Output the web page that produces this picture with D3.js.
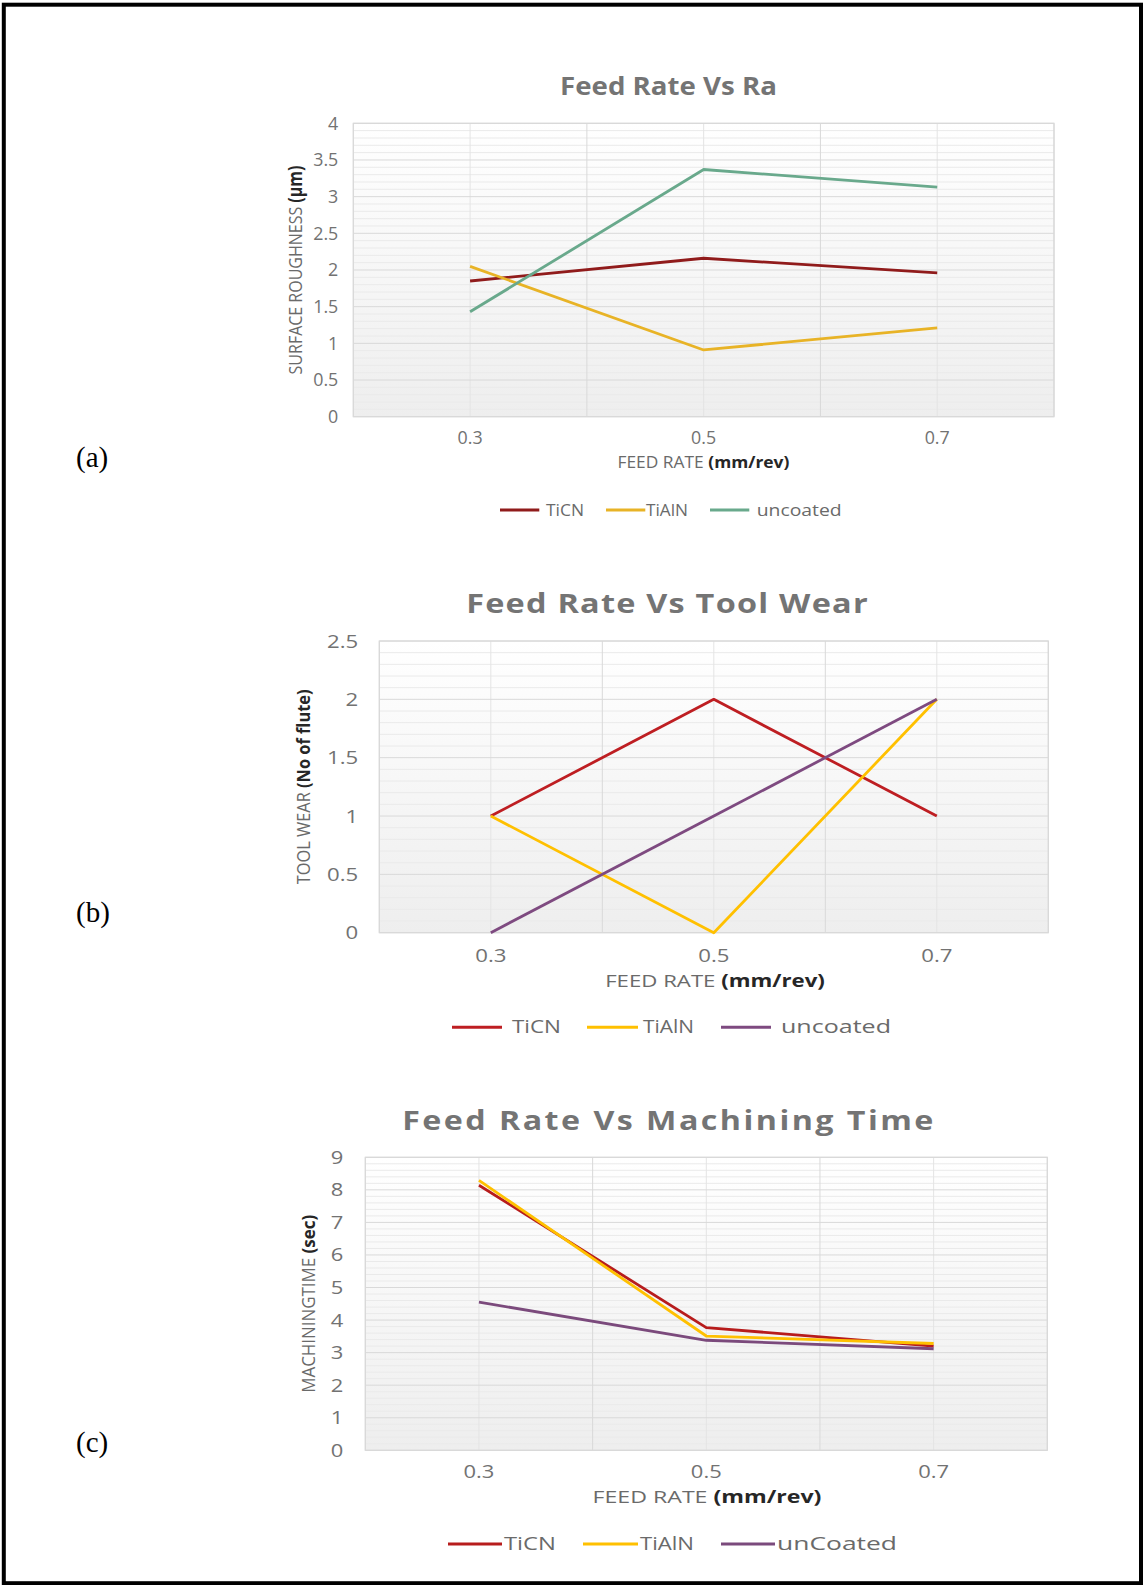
<!DOCTYPE html>
<html><head><meta charset="utf-8">
<script src="https://cdn.jsdelivr.net/npm/d3@7"></script>
<style>body{margin:0;background:#fff}svg{display:block}</style>
</head><body>
<script>
// ---------- data ----------
const feedRates = [0.3, 0.5, 0.7];
const xTickLabels = ["0.3", "0.5", "0.7"];
const seriesNamesAB = ["TiCN", "TiAlN", "uncoated"];
const seriesNamesC = ["TiCN", "TiAlN", "unCoated"];

const raTiCN = [1.85, 2.16, 1.96];
const raTiAlN = [2.05, 0.91, 1.21];
const raUncoated = [1.43, 3.37, 3.13];
const raTicks = [0, 0.5, 1, 1.5, 2, 2.5, 3, 3.5, 4];

const wearTiCN = [1, 2, 1];
const wearTiAlN = [1, 0, 2];
const wearUncoated = [0, 1, 2];
const wearTicks = [0, 0.5, 1, 1.5, 2, 2.5];

const timeTiCN = [8.14, 3.77, 3.2];
const timeTiAlN = [8.29, 3.51, 3.28];
const timeUncoated = [4.55, 3.38, 3.12];
const timeTicks = [0, 1, 2, 3, 4, 5, 6, 7, 8, 9];

// ---------- layout / style ----------
const FONT = "'Open Sans', 'DejaVu Sans', sans-serif";
const W = 1143, H = 1585;
const svg = d3.select("body").append("svg").attr("width", W).attr("height", H);

const defs = svg.append("defs");
const grad = defs.append("linearGradient").attr("id", "plotbg").attr("x1", 0).attr("y1", 0).attr("x2", 0).attr("y2", 1);
grad.append("stop").attr("offset", "0%").attr("stop-color", "#ffffff");
grad.append("stop").attr("offset", "100%").attr("stop-color", "#eeeeee");

svg.append("rect").attr("x", 3.8).attr("y", 4.7).attr("width", 1137.2).attr("height", 1578.5)
  .attr("fill", "none").attr("stroke", "#000").attr("stroke-width", 4);

function fitText(parent, o) {
  const t = parent.append("text")
    .attr("font-family", o.family || FONT)
    .attr("font-size", o.size)
    .attr("text-anchor", o.anchor || "middle");
  if (o.spacing) t.attr("letter-spacing", o.spacing);
  o.parts.forEach(p => t.append("tspan").text(p.text)
    .attr("font-weight", p.bold ? 700 : (o.weight || 400))
    .attr("fill", p.color || o.color));
  const w = t.node().getComputedTextLength();
  const sx = o.width ? o.width / w : 1;
  t.attr("transform", `translate(${o.x},${o.y}) rotate(${o.rotate || 0}) scale(${sx},1)`);
  return t;
}

const charts = [
  {
    label: "(a)", labelY: 467,
    title: "Feed Rate Vs Ra", titleX: 668.5, titleY: 95, titleSize: 25, titleW: 217, titleSpacing: 0,
    plot: {x0: 353.3, x1: 1054, y0: 123.3, y1: 416.7},
    yMax: 4, yTicks: raTicks, minorStep: 0.1, yTickRight: 338.3, tickSize: 17.5, tickSx: 1.02, xTickY: 444.3,
    yTitle: [{text: "SURFACE ROUGHNESS "}, {text: "(µm)", bold: true, color: "#262626"}],
    yTitleX: 302, yTitleW: 209, yTitleSize: 19,
    xTitleX: 703.4, xTitleY: 468.3, xTitleW: 172, xTitleSize: 16.5,
    series: [raTiCN, raTiAlN, raUncoated], names: seriesNamesAB,
    colors: ["#901b1b", "#e8b326", "#69a98c"],
    legendY: 510, legendTextY: 516, legendSize: 17,
    legendItems: [{x0: 500, x1: 539.3, tx: 546, tw: 38}, {x0: 606, x1: 645.3, tx: 646, tw: 42}, {x0: 710, x1: 749.3, tx: 756.7, tw: 85}]
  },
  {
    label: "(b)", labelY: 922,
    title: "Feed Rate Vs Tool Wear", titleX: 667.5, titleY: 613, titleSize: 26, titleW: 403, titleSpacing: 1,
    plot: {x0: 379.3, x1: 1048.3, y0: 641, y1: 932.7},
    yMax: 2.5, yTicks: wearTicks, minorStep: 0.1, yTickRight: 358.3, tickSize: 18.5, tickSx: 1.2, xTickY: 962,
    yTitle: [{text: "TOOL WEAR "}, {text: "(No of flute)", bold: true, color: "#262626"}],
    yTitleX: 309.5, yTitleW: 195, yTitleSize: 17.5,
    xTitleX: 715, xTitleY: 987, xTitleW: 220, xTitleSize: 17,
    series: [wearTiCN, wearTiAlN, wearUncoated], names: seriesNamesAB,
    colors: ["#be1e22", "#ffc000", "#7e4a80"],
    legendY: 1027.3, legendTextY: 1033, legendSize: 17.5,
    legendItems: [{x0: 452, x1: 502, tx: 512, tw: 49}, {x0: 587, x1: 638, tx: 643, tw: 51}, {x0: 721, x1: 771, tx: 781, tw: 110}]
  },
  {
    label: "(c)", labelY: 1452,
    title: "Feed Rate Vs Machining  Time", titleX: 669, titleY: 1130, titleSize: 26, titleW: 534, titleSpacing: 2,
    plot: {x0: 365.3, x1: 1047.3, y0: 1157.3, y1: 1450.3},
    yMax: 9, yTicks: timeTicks, minorStep: 0.2, yTickRight: 343.3, tickSize: 18, tickSx: 1.22, xTickY: 1478,
    yTitle: [{text: "MACHININGTIME "}, {text: "(sec)", bold: true, color: "#262626"}],
    yTitleX: 315, yTitleW: 178, yTitleSize: 18.5,
    xTitleX: 707, xTitleY: 1503, xTitleW: 229, xTitleSize: 17,
    series: [timeTiCN, timeTiAlN, timeUncoated], names: seriesNamesC,
    colors: ["#b71c1c", "#ffc000", "#7b4a7c"],
    legendY: 1544, legendTextY: 1550, legendSize: 17.5,
    legendItems: [{x0: 448, x1: 502, tx: 504, tw: 52}, {x0: 583, x1: 638, tx: 640, tw: 54}, {x0: 721, x1: 775, tx: 777, tw: 120}]
  }
];

charts.forEach(c => {
  const g = svg.append("g");
  const p = c.plot;
  const x = d3.scaleLinear().domain([0.2, 0.8]).range([p.x0, p.x1]);
  const y = d3.scaleLinear().domain([0, c.yMax]).range([p.y1, p.y0]);

  // panel label
  g.append("text").attr("x", 76).attr("y", c.labelY).attr("font-family", "'Liberation Serif', 'Times New Roman', serif")
    .attr("font-size", 29).attr("fill", "#000").text(c.label);

  // title
  fitText(g, {x: c.titleX, y: c.titleY, size: c.titleSize, width: c.titleW, spacing: c.titleSpacing,
    parts: [{text: c.title, bold: true}], color: "#747474"});

  // plot background
  g.append("rect").attr("x", p.x0).attr("y", p.y0).attr("width", p.x1 - p.x0).attr("height", p.y1 - p.y0)
    .attr("fill", "url(#plotbg)");

  // minor horizontal gridlines
  const nMinor = Math.round(c.yMax / c.minorStep);
  const minorVals = d3.range(0, nMinor + 1).map(i => i * c.minorStep)
    .filter(v => !c.yTicks.some(t => Math.abs(t - v) < 1e-6));
  g.append("g").selectAll("line").data(minorVals).join("line")
    .attr("x1", p.x0).attr("x2", p.x1).attr("y1", d => y(d)).attr("y2", d => y(d))
    .attr("stroke", "#eaeaea").attr("stroke-width", 1);

  // vertical gridlines
  const vx = [0.2, 0.3, 0.4, 0.5, 0.6, 0.7, 0.8];
  g.append("g").selectAll("line").data(vx).join("line")
    .attr("x1", d => x(d)).attr("x2", d => x(d)).attr("y1", p.y0).attr("y2", p.y1)
    .attr("stroke", (d, i) => i % 2 === 0 ? "#d9d9d9" : "#e4e4e4").attr("stroke-width", 1);

  // major horizontal gridlines
  g.append("g").selectAll("line").data(c.yTicks).join("line")
    .attr("x1", p.x0).attr("x2", p.x1).attr("y1", d => y(d)).attr("y2", d => y(d))
    .attr("stroke", "#d9d9d9").attr("stroke-width", 1);

  // border
  g.append("rect").attr("x", p.x0).attr("y", p.y0).attr("width", p.x1 - p.x0).attr("height", p.y1 - p.y0)
    .attr("fill", "none").attr("stroke", "#d9d9d9").attr("stroke-width", 1.2);

  // y tick labels
  g.append("g").selectAll("text").data(c.yTicks).join("text")
    .attr("transform", d => `translate(${c.yTickRight},${y(d)}) scale(${c.tickSx},1)`)
    .attr("dy", "0.36em")
    .attr("text-anchor", "end").attr("font-family", FONT).attr("font-size", c.tickSize)
    .attr("fill", "#727272").text(d => d3.format("~g")(d));

  // x tick labels
  g.append("g").selectAll("text").data(feedRates).join("text")
    .attr("transform", d => `translate(${x(d)},${c.xTickY}) scale(${c.tickSx},1)`)
    .attr("text-anchor", "middle").attr("font-family", FONT).attr("font-size", c.tickSize)
    .attr("fill", "#727272").text((d, i) => xTickLabels[i]);

  // axis titles
  fitText(g, {x: c.yTitleX, y: (p.y0 + p.y1) / 2, rotate: -90, size: c.yTitleSize, width: c.yTitleW,
    parts: c.yTitle, color: "#6a6a6a"});
  fitText(g, {x: c.xTitleX, y: c.xTitleY, size: c.xTitleSize, width: c.xTitleW,
    parts: [{text: "FEED RATE "}, {text: "(mm/rev)", bold: true, color: "#262626"}], color: "#6a6a6a"});

  // series
  const line = d3.line().x((d, i) => x(feedRates[i])).y(d => y(d));
  c.series.forEach((s, si) => {
    g.append("path").datum(s).attr("d", line).attr("fill", "none")
      .attr("stroke", c.colors[si]).attr("stroke-width", 2.8).attr("stroke-linejoin", "round");
  });

  // legend
  c.legendItems.forEach((it, i) => {
    g.append("line").attr("x1", it.x0).attr("x2", it.x1).attr("y1", c.legendY).attr("y2", c.legendY)
      .attr("stroke", c.colors[i]).attr("stroke-width", 3);
    fitText(g, {x: it.tx, y: c.legendTextY, anchor: "start", size: c.legendSize, width: it.tw,
      parts: [{text: c.names[i]}], color: "#6a6a6a"});
  });
});
</script>
</body></html>
